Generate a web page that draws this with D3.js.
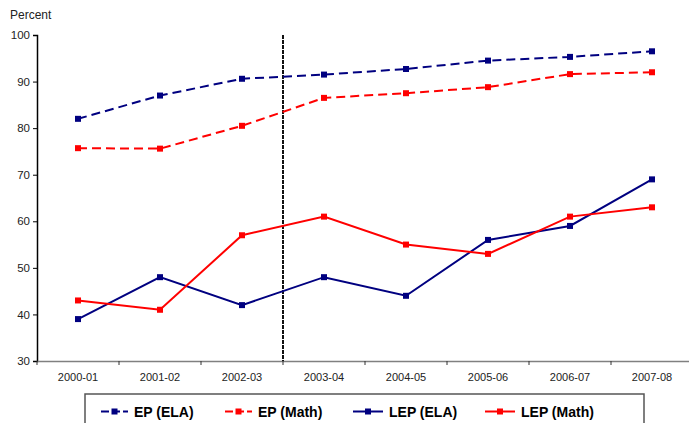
<!DOCTYPE html>
<html>
<head>
<meta charset="utf-8">
<script src="https://cdn.jsdelivr.net/npm/d3@7"></script>
<style>
  html, body { margin: 0; padding: 0; background: #fff; }
  svg { display: block; font-family: "Liberation Sans", Arial, sans-serif; }
</style>
</head>
<body>
<svg id="chart" width="689" height="423"></svg>
<script>
// School years on the x axis
const years = ["2000-01", "2001-02", "2002-03", "2003-04", "2004-05", "2005-06", "2006-07", "2007-08"];

// Percent proficient by group
const epEla   = [82, 87, 90.6, 91.5, 92.7, 94.5, 95.3, 96.5];
const epMath  = [75.7, 75.6, 80.5, 86.5, 87.5, 88.8, 91.6, 92.0];
const lepEla  = [39, 48, 42, 48, 44, 56, 59, 69];
const lepMath = [43, 41, 57, 61, 55, 53, 61, 63];

const yTicks = [30, 40, 50, 60, 70, 80, 90, 100];
const seriesNames = ["EP (ELA)", "EP (Math)", "LEP (ELA)", "LEP (Math)"];

const NAVY = "#000080", RED = "#ff0000";
const series = [
  { name: seriesNames[0], values: epEla,   color: NAVY, dashed: true },
  { name: seriesNames[1], values: epMath,  color: RED,  dashed: true },
  { name: seriesNames[2], values: lepEla,  color: NAVY, dashed: false },
  { name: seriesNames[3], values: lepMath, color: RED,  dashed: false }
];

const svg = d3.select("#chart");
const plot = { left: 37, right: 693, top: 35, bottom: 361 };

const x = d3.scaleBand().domain(years).range([plot.left, plot.right]);
const y = d3.scaleLinear().domain([30, 100]).range([plot.bottom, plot.top]);
const cx = d => x(d) + x.bandwidth() / 2;

// Y axis
const yAxis = svg.append("g")
  .attr("transform", `translate(${plot.left},0)`)
  .call(d3.axisLeft(y).tickValues(yTicks).tickSize(4).tickPadding(3));
yAxis.select(".domain").attr("stroke", "#000").attr("stroke-width", 1.5);
yAxis.selectAll(".tick line").attr("stroke", "#000");
yAxis.selectAll("text").attr("font-size", "11.5px").attr("fill", "#222");

// X axis: ticks sit on category boundaries
const xAxis = svg.append("g")
  .attr("transform", `translate(0,${plot.bottom})`)
  .call(d3.axisBottom(x).tickSize(0).tickPadding(12));
xAxis.select(".domain").attr("stroke", "#808080").attr("stroke-width", 1.5);
xAxis.selectAll("text").attr("font-size", "11px").attr("fill", "#222");
xAxis.selectAll(".bound")
  .data(years)
  .enter().append("line")
  .attr("x1", d => x(d) + x.bandwidth())
  .attr("x2", d => x(d) + x.bandwidth())
  .attr("y1", 0).attr("y2", 4)
  .attr("stroke", "#333");
svg.append("line")
  .attr("x1", plot.left).attr("x2", plot.left)
  .attr("y1", plot.bottom).attr("y2", plot.bottom + 4)
  .attr("stroke", "#333");

// "Percent" axis title
svg.append("text").attr("x", 10).attr("y", 19)
  .attr("font-size", "12px").attr("fill", "#222").text("Percent");

// Divider between 2002-03 and 2003-04
const divX = x("2003-04");
svg.append("line")
  .attr("x1", divX).attr("x2", divX)
  .attr("y1", plot.top).attr("y2", plot.bottom)
  .attr("stroke", "#111").attr("stroke-width", 2)
  .attr("stroke-dasharray", "4,1");

// Series lines and markers
const line = d3.line().x((d, i) => cx(years[i])).y(d => y(d));
series.forEach(s => {
  svg.append("path")
    .datum(s.values)
    .attr("d", line)
    .attr("fill", "none")
    .attr("stroke", s.color)
    .attr("stroke-width", 2)
    .attr("stroke-dasharray", s.dashed ? "9,5" : null);
  svg.selectAll(null)
    .data(s.values)
    .enter().append("rect")
    .attr("x", (d, i) => cx(years[i]) - 3)
    .attr("y", d => y(d) - 3)
    .attr("width", 6).attr("height", 6)
    .attr("fill", s.color);
});

// Legend
const legend = svg.append("g");
legend.append("rect")
  .attr("x", 85).attr("y", 394).attr("width", 559).attr("height", 40)
  .attr("fill", "#fff").attr("stroke", "#555").attr("stroke-width", 1.5);
const legendX = [101, 225, 353, 485];
const ly = 411.5;
series.forEach((s, i) => {
  const g = legend.append("g").attr("transform", `translate(${legendX[i]},${ly})`);
  const w = s.dashed ? 27 : 30;
  g.append("line").attr("x1", 0).attr("x2", w).attr("y1", 0).attr("y2", 0)
    .attr("stroke", s.color).attr("stroke-width", 2)
    .attr("stroke-dasharray", s.dashed ? "8,3" : null);
  g.append("rect").attr("x", w / 2 - 3).attr("y", -3).attr("width", 6).attr("height", 6)
    .attr("fill", s.color);
  g.append("text").attr("x", w + 6).attr("y", 5)
    .attr("font-size", "14px").attr("font-weight", "bold").attr("fill", "#000")
    .text(s.name);
});
</script>
</body>
</html>
